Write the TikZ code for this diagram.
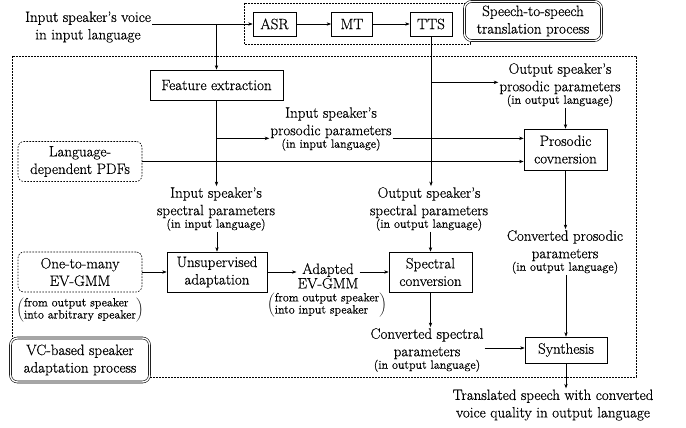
\documentclass[tikz,border=0pt]{standalone}
\usepackage{fontspec}
\setmainfont{Latin Modern Roman}[FakeBold=0.5]
\usetikzlibrary{arrows.meta,calc}
\newcommand{\mfs}{\fontsize{15}{17.5}\selectfont}
\newcommand{\sfs}{\fontsize{12}{13.5}\selectfont}
\newcommand{\parnote}[2]{$\left(\vcenter{\hbox{\sfs\renewcommand{\arraystretch}{0.9}\begin{tabular}{@{}l@{}}#1\\#2\end{tabular}}}\right)$}
\tikzset{
  arr/.style={-{Stealth[length=4.5pt,width=3.4pt]},line width=0.6pt},
  box/.style={draw,line width=0.7pt,align=center,font=\mfs,inner sep=0pt},
  dbox/.style={draw,line width=0.6pt,dash pattern=on 1.6pt off 1.4pt,rounded corners=6pt,align=center,font=\mfs,inner sep=0pt,minimum width=124pt,minimum height=40pt},
  dblbox/.style={draw,double,double distance=1.4pt,line width=0.6pt,rounded corners=7pt,align=center,font=\mfs,inner sep=1pt,fill=white},
  lbl/.style={align=center,font=\mfs,inner sep=1pt},
  region/.style={line width=0.6pt,dash pattern=on 1.6pt off 1.4pt}
}
\begin{document}
\begin{tikzpicture}[x=1pt,y=-1pt]
\useasboundingbox (0,0) rectangle (686,428);
% regions
\draw[region] (244,3) rectangle (470,44);
\draw[region] (12,56) rectangle (636,377);
% top
\node[lbl] (inp) at (88,27) {Input speaker's voice\\in input language};
\node[box,minimum width=43pt,minimum height=24pt] (asr) at (274.5,24) {ASR};
\node[box,minimum width=41pt,minimum height=24pt] (mt) at (352,24) {MT};
\node[box,minimum width=42pt,minimum height=24pt] (tts) at (431,24) {TTS};
\node[dblbox,minimum width=137pt,minimum height=39pt] (sts) at (533,21) {Speech-to-speech\\translation process};
% left column
\node[box,minimum width=133pt,minimum height=30pt] (fe) at (216.5,85) {Feature extraction};
\node[lbl] (ispec) at (216,209) {Input speaker's\\spectral parameters\\[-5pt]{\sfs (in input language)}};
\node[lbl] (ipros) at (331,129) {Input speaker's\\prosodic parameters\\[-5pt]{\sfs (in input language)}};
\node[dbox] (pdfs) at (80,161.5) {Language-\\dependent PDFs};
\node[dbox] (evg) at (80,272) {One-to-many\\EV-GMM};
\node[lbl] (note1) at (80,310) {\parnote{from output speaker}{into arbitrary speaker}};
\node[box,minimum width=100pt,minimum height=40pt] (ua) at (217,272) {Unsupervised\\adaptation};
\node[lbl] (adp) at (328,276) {Adapted\\[-3pt]EV-GMM};
\node[lbl] (note2) at (327,305) {\parnote{from output speaker}{into input speaker}};
\node[dblbox,minimum width=139pt,minimum height=44pt] (vc) at (80,360) {VC-based speaker\\adaptation process};
% middle / right
\node[lbl] (opros) at (560,85) {Output speaker's\\prosodic parameters\\[-5pt]{\sfs (in output language)}};
\node[box,minimum width=83pt,minimum height=41pt] (pc) at (565.5,149.5) {Prosodic\\covnersion};
\node[lbl] (ospec) at (429,209) {Output speaker's\\spectral parameters\\[-5pt]{\sfs (in output language)}};
\node[lbl] (cpros) at (565,252) {Converted prosodic\\parameters\\[-5pt]{\sfs (in output language)}};
\node[box,minimum width=83pt,minimum height=40pt] (sc) at (430.5,272) {Spectral\\conversion};
\node[lbl] (cspec) at (427,350) {Converted spectral\\parameters\\[-5pt]{\sfs (in output language)}};
\node[box,minimum width=82pt,minimum height=26pt] (syn) at (566,350) {Synthesis};
\node[lbl] (out) at (553,405) {Translated speech with converted\\voice quality in output language};
% connectors
\draw[arr] (inp.east |- asr.west) -- (asr.west);
\draw[arr] (asr) -- (mt);
\draw[arr] (mt) -- (tts);
\coordinate (b1) at (fe.north |- asr.west);
\draw[arr] (b1) -- (fe.north);
\draw[arr] (fe.south) -- (fe.south |- ispec.north);
\coordinate (b2) at ($(fe.south)+(0,38)$);
\draw[arr] (b2) -- (b2 -| ipros.west);
\draw[arr] (b2 -| ipros.east) -- (b2 -| pc.west);
\draw[arr] (pdfs.east) -- (pdfs.east -| pc.west);
\draw[arr] (tts.south) -- (tts.south |- ospec.north);
\coordinate (b3) at ($(tts.south)+(0,46)$);
\draw[arr] (b3) -- (b3 -| opros.west);
\draw[arr] (pc.north |- opros.south) -- (pc.north);
\draw[arr] (pc.south) -- (pc.south |- cpros.north);
\draw[arr] (syn.north |- cpros.south) -- (syn.north);
\draw[arr] (sc.north |- ospec.south) -- (sc.north);
\draw[arr] (sc.south) -- (sc.south |- cspec.north);
\draw[arr] ($(cspec.east |- syn.west)+(0,-2)$) -- ($(syn.west)+(0,-2)$);
\draw[arr] (syn.south) -- (syn.south |- out.north);
\draw[arr] (ua.north |- ispec.south) -- (ua.north);
\draw[arr] (evg.east) -- (ua.west);
\draw[arr] (ua.east) -- (ua.east -| adp.west);
\draw[arr] (sc.west -| adp.east) -- (sc.west);
\end{tikzpicture}
\end{document}
